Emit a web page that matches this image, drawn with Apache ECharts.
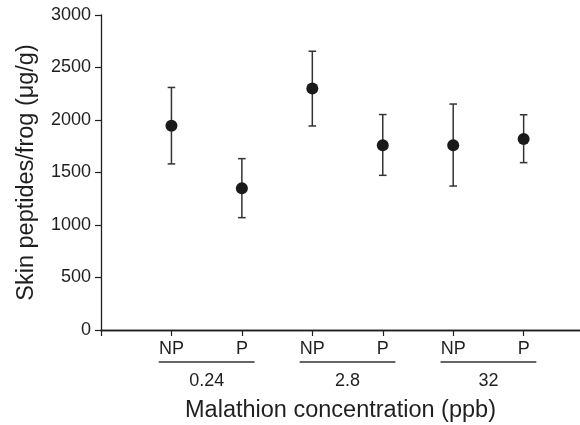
<!DOCTYPE html>
<html>
<head>
<meta charset="utf-8">
<script src="https://cdn.jsdelivr.net/npm/echarts@6/dist/echarts.min.js"></script>
<style>html,body{margin:0;padding:0;background:#fff}#c{width:580px;height:425px}</style>
</head>
<body>
<div id="c"></div>
<script>
var categories = ['NP', 'P', 'NP', 'P', 'NP', 'P'];
var positions = [1, 2, 3, 4, 5, 6];
var means = [1945, 1350, 2300, 1760, 1760, 1820];
var upper = [2310, 1632, 2655, 2052, 2152, 2050];
var lower = [1582, 1070, 1943, 1473, 1371, 1594];
var groups = ['0.24', '2.8', '32'];
var groupStart = [1, 3, 5];
var yTicks = [0, 500, 1000, 1500, 2000, 2500, 3000];

var FONT = 'Liberation Sans, Arial, Helvetica, sans-serif';
var INK = '#1f1f1f';

var chart = echarts.init(document.getElementById('c'));

var errData = positions.map(function (p, i) { return [p, lower[i], upper[i]]; });
var ptData = positions.map(function (p, i) { return [p, means[i]]; });
var grpData = groups.map(function (g, i) { return [groupStart[i], i]; });

chart.setOption({
  animation: false,
  grid: { left: 101, right: 0, top: 15, bottom: 95, containLabel: false, outerBoundsMode: 'none' },
  xAxis: [{
    type: 'value', min: 0, max: 6.8, interval: 1,
    name: 'Malathion concentration (ppb)', nameLocation: 'middle', nameGap: 69,
    nameTextStyle: { fontFamily: FONT, fontSize: 23.5, color: INK },
    axisLine: { show: true, onZero: false, lineStyle: { color: INK, width: 1.3 } },
    axisTick: { show: true, length: 6, inside: false, customValues: [0, 1, 2, 3, 4, 5, 6], lineStyle: { color: INK, width: 1.2 } },
    axisLabel: {
      show: true, margin: 10, fontFamily: FONT, fontSize: 18, color: INK,
      customValues: positions,
      formatter: function (v) { var i = positions.indexOf(Math.round(v)); return i >= 0 ? categories[i] : ''; }
    },
    splitLine: { show: false }
  }, {
    type: 'value', min: 0, max: 6.8, position: 'top',
    axisLine: { show: true, lineStyle: { color: INK, width: 1.3 } },
    axisTick: { show: false }, axisLabel: { show: false }, splitLine: { show: false }
  }],
  yAxis: {
    type: 'value', min: 0, max: 3000, interval: 500,
    name: 'Skin peptides/frog (μg/g)', nameLocation: 'middle', nameGap: 62, nameRotate: 90,
    nameTextStyle: { fontFamily: FONT, fontSize: 23.5, color: INK },
    axisLine: { show: true, lineStyle: { color: INK, width: 1.3 } },
    axisTick: { show: true, length: 6, lineStyle: { color: INK, width: 1.2 } },
    axisLabel: {
      margin: 10, fontFamily: FONT, fontSize: 18, color: INK,
      customValues: yTicks,
      formatter: function (v) { return String(v); }
    },
    splitLine: { show: false }
  },
  series: [{
    type: 'custom',
    data: errData,
    renderItem: function (params, api) {
      var x = api.value(0);
      var lo = api.coord([x, api.value(1)]);
      var hi = api.coord([x, api.value(2)]);
      var w = 3.8;
      var st = { stroke: '#333', lineWidth: 1.5 };
      return {
        type: 'group',
        children: [
          { type: 'line', shape: { x1: lo[0], y1: lo[1], x2: hi[0], y2: hi[1] }, style: st },
          { type: 'line', shape: { x1: lo[0] - w, y1: lo[1], x2: lo[0] + w, y2: lo[1] }, style: st },
          { type: 'line', shape: { x1: hi[0] - w, y1: hi[1], x2: hi[0] + w, y2: hi[1] }, style: st }
        ]
      };
    },
    z: 2
  }, {
    type: 'scatter',
    data: ptData,
    symbol: 'circle',
    symbolSize: 12,
    itemStyle: { color: '#1a1a1a', opacity: 1 },
    z: 3
  }, {
    type: 'custom',
    data: grpData,
    clip: false,
    renderItem: function (params, api) {
      var s = api.value(0);
      var i = api.value(1);
      var a = api.coord([s - 0.18, 0]);
      var b = api.coord([s + 1.18, 0]);
      var yLine = a[1] + 32;
      return {
        type: 'group',
        children: [
          { type: 'line', shape: { x1: a[0], y1: yLine, x2: b[0], y2: yLine }, style: { stroke: '#333', lineWidth: 1.6 } },
          { type: 'text', style: { text: groups[i], x: (a[0] + b[0]) / 2, y: yLine + 19, align: 'center', verticalAlign: 'middle', fontFamily: FONT, fontSize: 18, fill: INK } }
        ]
      };
    },
    z: 2
  }]
});
</script>
</body>
</html>
